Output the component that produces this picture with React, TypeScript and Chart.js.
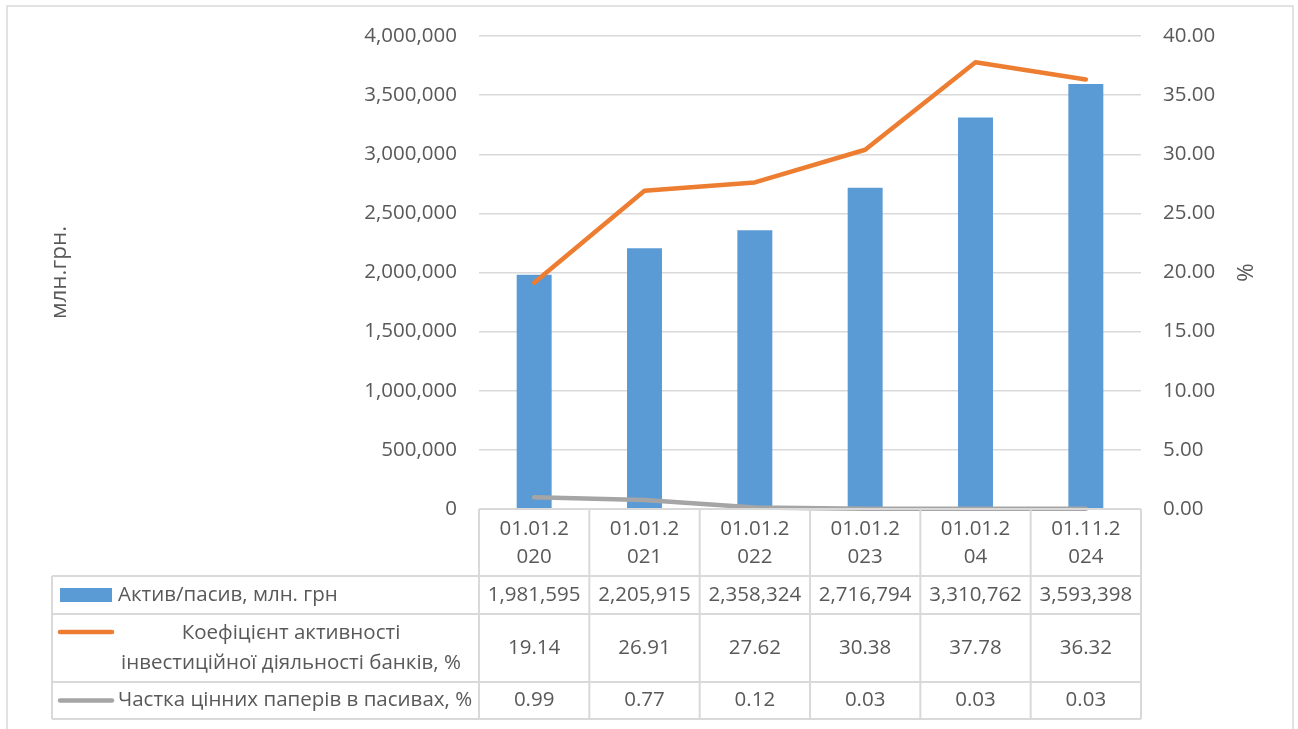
import React, { useEffect, useRef } from "react";
import { Chart, registerables } from "chart.js";

Chart.register(...registerables);

const categories = ["01.01.2020", "01.01.2021", "01.01.2022", "01.01.2023", "01.01.204", "01.11.2024"];
const assetsName = "Актив/пасив, млн. грн";
const assets = [1981595, 2205915, 2358324, 2716794, 3310762, 3593398];
const coefName = "Коефіцієнт активності інвестиційної діяльності банків, %";
const coefLines = ["Коефіцієнт активності", "інвестиційної діяльності банків, %"];
const coef = [19.14, 26.91, 27.62, 30.38, 37.78, 36.32];
const shareName = "Частка цінних паперів в пасивах, %";
const share = [0.99, 0.77, 0.12, 0.03, 0.03, 0.03];
const leftTitle = "млн.грн.";
const rightTitle = "%";

const FONT = '"Open Sans"';
const FS = 20.5;
const TFS = 22.5;
const TEXT = "#595959";
const GRID = "#D9D9D9";
const BLUE = "#5B9BD5";
const ORANGE = "#ED7D31";
const GRAY = "#A5A5A5";

const W = 1298;
const H = 729;

const tablePlugin = {
  id: "dataTable",
  afterDraw(chart: any) {
    const ctx = chart.ctx as CanvasRenderingContext2D;
    const a = chart.chartArea;
    const xs = chart.scales.x;
    const n = categories.length;
    const cw = (a.right - a.left) / n;
    const tableLeft = 52;
    const rowY = [a.bottom, a.bottom + 67, a.bottom + 105, a.bottom + 173, a.bottom + 210];
    ctx.save();
    // outer border
    ctx.strokeStyle = GRID;
    ctx.lineWidth = 1.5;
    ctx.beginPath();
    ctx.moveTo(7, H + 5);
    ctx.lineTo(7, 6);
    ctx.lineTo(1293, 6);
    ctx.lineTo(1293, H + 5);
    ctx.stroke();
    // table lines
    ctx.lineWidth = 2;
    ctx.beginPath();
    ctx.moveTo(a.left, rowY[0]);
    ctx.lineTo(a.right, rowY[0]);
    for (let r = 1; r < rowY.length; r++) {
      ctx.moveTo(tableLeft, rowY[r]);
      ctx.lineTo(a.right, rowY[r]);
    }
    for (let i = 0; i <= n; i++) {
      const x = a.left + i * cw;
      ctx.moveTo(x, rowY[0]);
      ctx.lineTo(x, rowY[4]);
    }
    ctx.moveTo(tableLeft, rowY[1]);
    ctx.lineTo(tableLeft, rowY[4]);
    ctx.stroke();

    ctx.fillStyle = TEXT;
    ctx.font = `${FS}px ${FONT}`;
    ctx.textAlign = "center";
    ctx.textBaseline = "middle";
    const fmt = (v: number) => v.toLocaleString("en-US");
    for (let i = 0; i < n; i++) {
      const cx = xs.getPixelForValue(i);
      const lab = categories[i];
      ctx.fillText(lab.slice(0, 7), cx, rowY[0] + 20);
      ctx.fillText(lab.slice(7), cx, rowY[0] + 48);
      ctx.fillText(fmt(assets[i]), cx, (rowY[1] + rowY[2]) / 2);
      ctx.fillText(coef[i].toFixed(2), cx, (rowY[2] + rowY[3]) / 2);
      ctx.fillText(share[i].toFixed(2), cx, (rowY[3] + rowY[4]) / 2);
    }
    // legend keys
    const keyL = 60;
    const keyR = 112;
    ctx.fillStyle = BLUE;
    const y1 = (rowY[1] + rowY[2]) / 2;
    ctx.fillRect(keyL, y1 - 7, keyR - keyL, 14);
    ctx.lineCap = "round";
    ctx.lineWidth = 4.5;
    ctx.strokeStyle = ORANGE;
    ctx.beginPath();
    ctx.moveTo(keyL, rowY[2] + 18);
    ctx.lineTo(keyR, rowY[2] + 18);
    ctx.stroke();
    ctx.strokeStyle = GRAY;
    const y3 = (rowY[3] + rowY[4]) / 2;
    ctx.beginPath();
    ctx.moveTo(keyL, y3);
    ctx.lineTo(keyR, y3);
    ctx.stroke();
    ctx.fillStyle = TEXT;
    ctx.textAlign = "left";
    ctx.fillText(assetsName, 118, y1);
    ctx.fillText(shareName, 118, y3);
    ctx.textAlign = "center";
    ctx.fillText(coefLines[0], 291, rowY[2] + 19);
    ctx.fillText(coefLines[1], 291, rowY[2] + 49);
    ctx.restore();
  },
};

export default function App() {
  const ref = useRef<HTMLCanvasElement | null>(null);
  useEffect(() => {
    document.body.style.margin = "0";
    const canvas = ref.current;
    if (!canvas) return;
    const chart = new Chart(canvas, {
      type: "bar",
      data: {
        labels: categories,
        datasets: [
          {
            type: "bar",
            label: assetsName,
            data: assets,
            backgroundColor: BLUE,
            yAxisID: "y",
            order: 2,
            barPercentage: 0.317,
            categoryPercentage: 1,
          },
          {
            type: "line",
            label: coefName,
            data: coef,
            borderColor: ORANGE,
            backgroundColor: ORANGE,
            borderWidth: 4.5,
            borderCapStyle: "round",
            borderJoinStyle: "round",
            pointRadius: 0,
            tension: 0,
            yAxisID: "y1",
            order: 1,
            clip: false,
          },
          {
            type: "line",
            label: shareName,
            data: share,
            borderColor: GRAY,
            backgroundColor: GRAY,
            borderWidth: 4.5,
            borderCapStyle: "round",
            borderJoinStyle: "round",
            pointRadius: 0,
            tension: 0,
            yAxisID: "y1",
            order: 1,
            clip: false,
          },
        ] as any,
      },
      options: {
        responsive: true,
        maintainAspectRatio: false,
        animation: false,
        layout: { padding: { top: 36, left: 0, right: 0, bottom: 0 } },
        plugins: { legend: { display: false }, tooltip: { enabled: false } },
        scales: {
          x: {
            ticks: { display: false },
            grid: { display: false },
            border: { display: false },
            afterFit(scale: any) {
              scale.height = 220;
            },
          },
          y: {
            position: "left",
            min: 0,
            max: 4000000,
            ticks: {
              stepSize: 500000,
              color: TEXT,
              font: { family: FONT, size: FS },
              padding: 22,
              callback: (v: any) => Number(v).toLocaleString("en-US"),
            },
            grid: { color: GRID, lineWidth: 1.5, drawTicks: false },
            border: { display: false },
            title: {
              display: true,
              text: leftTitle,
              color: TEXT,
              font: { family: FONT, size: TFS },
              padding: { top: 46, bottom: 0 },
            },
            afterFit(scale: any) {
              scale.width = 479;
            },
          },
          y1: {
            position: "right",
            min: 0,
            max: 40,
            ticks: {
              stepSize: 5,
              color: TEXT,
              font: { family: FONT, size: FS },
              padding: 22,
              callback: (v: any) => Number(v).toFixed(2),
            },
            grid: { display: false, drawTicks: false },
            border: { display: false },
            title: {
              display: true,
              text: rightTitle,
              color: TEXT,
              font: { family: FONT, size: TFS },
              padding: { top: 41, bottom: 0 },
            },
            afterFit(scale: any) {
              scale.width = W - 1141;
            },
          },
        },
      },
      plugins: [tablePlugin],
    });
    return () => chart.destroy();
  }, []);
  return (
    <div style={{ position: "absolute", left: 0, top: 0, width: W, height: H, background: "#fff" }}>
      <canvas ref={ref} />
    </div>
  );
}
